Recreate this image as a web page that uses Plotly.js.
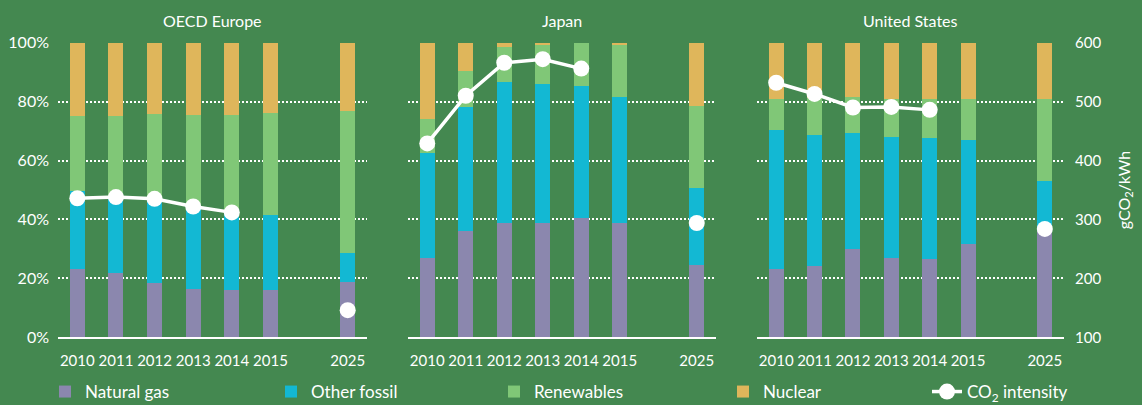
<!DOCTYPE html>
<html>
<head>
<meta charset="utf-8">
<script src="https://cdn.plot.ly/plotly-3.0.1.min.js"></script>
<style>
html,body{margin:0;padding:0;background:#448850;}
#chart{width:1142px;height:405px;}
</style>
</head>
<body>
<div id="chart"></div>
<script>
// ---- data ----
const years = ['2010','2011','2012','2013','2014','2015','2025'];
const categoryOrder = ['2010','2011','2012','2013','2014','2015','gap','2025'];
const regions = ['OECD Europe','Japan','United States'];
const seriesNames = ['Natural gas','Other fossil','Renewables','Nuclear'];
const lineName = 'CO<sub>2</sub> intensity';

// shares of electricity generation (%)
const europeGas     = [23.2, 21.7, 18.3, 16.5, 15.9, 15.9, 18.7];
const europeFossil  = [26.5, 26.3, 29.2, 27.5, 26.1, 25.6, 9.8];
const europeRenew   = [25.3, 27.0, 28.4, 31.6, 33.4, 34.6, 48.3];
const europeNuclear = [25.0, 25.0, 24.1, 24.4, 24.6, 23.9, 23.2];
const europeCO2     = [336, 338, 335, 322, 312, null, 146];

const japanGas      = [27.0, 36.1, 38.8, 38.8, 40.6, 38.8, 24.4];
const japanFossil   = [35.6, 42.0, 47.8, 47.1, 44.7, 42.8, 26.4];
const japanRenew    = [11.5, 12.2, 11.8, 13.3, 14.7, 17.5, 27.8];
const japanNuclear  = [25.9, 9.7, 1.6, 0.8, 0.0, 0.9, 21.4];
const japanCO2      = [429, 510, 566, 572, 556, null, 294];

const usGas         = [23.3, 24.3, 29.9, 27.0, 26.6, 31.8, 36.0];
const usFossil      = [47.2, 44.4, 39.3, 41.0, 41.0, 35.3, 17.0];
const usRenew       = [10.4, 12.4, 12.3, 13.0, 13.3, 13.7, 27.8];
const usNuclear     = [19.1, 18.9, 18.5, 19.0, 19.1, 19.2, 19.2];
const usCO2         = [532, 513, 490, 491, 486, null, 284];

const pctTicks  = [0, 20, 40, 60, 80, 100];
const pctLabels = ['0%', '20%', '40%', '60%', '80%', '100%'];
const co2Ticks  = [100, 200, 300, 400, 500, 600];

// ---- styling ----
const colors = ['#8b87ae', '#13b8d3', '#80c777', '#dfb65b'];
const bg = '#448850';
const fontFam = 'Lato, "Open Sans", sans-serif';

const panels = [
  {name: regions[0], vals: [europeGas, europeFossil, europeRenew, europeNuclear], co2: europeCO2},
  {name: regions[1], vals: [japanGas, japanFossil, japanRenew, japanNuclear], co2: japanCO2},
  {name: regions[2], vals: [usGas, usFossil, usRenew, usNuclear], co2: usCO2}
];

const W = 1142, H = 405;
const xDomPx = [[58, 367], [408, 716], [757, 1064]];
const yDom = [(H - 337.3) / H, (H - 42.7) / H];
const legendXPx = [45, 271, 494, 723, 927];
const legendIds = ['legend', 'legend2', 'legend3', 'legend4', 'legend5'];

const traces = [];
const layout = {
  width: W, height: H,
  paper_bgcolor: bg, plot_bgcolor: bg,
  margin: {l: 0, r: 0, t: 0, b: 0, autoexpand: false},
  barmode: 'stack',
  bargap: 0.61,
  font: {family: fontFam, color: '#ffffff', size: 15, weight: 400},
  showlegend: true,
  annotations: []
};
legendIds.forEach((id, k) => {
  layout[id] = {
    orientation: 'h', x: legendXPx[k] / W, xanchor: 'left', y: 13 / H, yanchor: 'middle',
    font: {family: fontFam, color: '#ffffff', size: 17, weight: 400},
    bgcolor: 'rgba(0,0,0,0)', borderwidth: 0, itemclick: false
  };
});

panels.forEach((p, i) => {
  const xa = i === 0 ? 'x' : 'x' + (i + 1);
  const yPct = i === 0 ? 'y' : 'y' + (2 * i + 1);
  const yCo2 = 'y' + (2 * i + 2);
  const xKey = i === 0 ? 'xaxis' : 'xaxis' + (i + 1);
  const yPctKey = i === 0 ? 'yaxis' : 'yaxis' + (2 * i + 1);
  const yCo2Key = 'yaxis' + (2 * i + 2);

  p.vals.forEach((v, k) => {
    traces.push({
      type: 'bar', x: years, y: v, name: seriesNames[k],
      marker: {color: colors[k], line: {width: 0}},
      xaxis: xa, yaxis: yPct, showlegend: i === 0, legend: legendIds[k],
      hoverinfo: 'skip'
    });
  });
  traces.push({
    type: 'scatter', mode: 'lines+markers', x: years, y: p.co2, name: lineName,
    connectgaps: false,
    line: {color: '#ffffff', width: 3.5},
    marker: {color: '#ffffff', size: 16},
    xaxis: xa, yaxis: yCo2, showlegend: i === 0, legend: legendIds[4],
    hoverinfo: 'skip'
  });

  layout[xKey] = {
    domain: [xDomPx[i][0] / W, xDomPx[i][1] / W], anchor: yPct,
    type: 'category', categoryorder: 'array', categoryarray: categoryOrder,
    tickmode: 'array', tickvals: years, ticktext: years,
    range: [-0.5, categoryOrder.length - 0.5],
    showline: true, linecolor: '#ffffff', linewidth: 1.5,
    ticks: '', showgrid: false, zeroline: false, ticklabelstandoff: 9,
    tickfont: {family: fontFam, color: '#ffffff', size: 15},
    fixedrange: true
  };
  layout[yPctKey] = {
    domain: yDom, anchor: xa, range: [0, 100],
    tickmode: 'array', tickvals: pctTicks, ticktext: pctLabels,
    showticklabels: i === 0, ticklabelstandoff: 8,
    showgrid: true, gridcolor: '#ffffff', gridwidth: 2, griddash: '2px,2px',
    zeroline: false, showline: false, ticks: '',
    tickfont: {family: fontFam, color: '#ffffff', size: 16},
    fixedrange: true
  };
  layout[yCo2Key] = {
    domain: yDom, anchor: xa, overlaying: yPct, side: 'right',
    range: [100, 600], tickmode: 'array', tickvals: co2Ticks,
    showticklabels: i === 2, showgrid: false, zeroline: false,
    showline: false, ticks: '', ticklabelstandoff: 10,
    tickfont: {family: fontFam, color: '#ffffff', size: 15},
    fixedrange: true
  };
  if (i === 2) {
    layout[yCo2Key].title = {text: 'gCO<sub>2</sub>/kWh', font: {family: fontFam, color: '#ffffff', size: 16}, standoff: 18};
  }
  layout.annotations.push({
    text: p.name, xref: 'paper', yref: 'paper',
    x: (xDomPx[i][0] + xDomPx[i][1]) / 2 / W, y: (H - 20) / H,
    xanchor: 'center', yanchor: 'middle', showarrow: false,
    font: {family: fontFam, color: '#ffffff', size: 16, weight: 400}
  });
});

Plotly.newPlot('chart', traces, layout, {displayModeBar: false, staticPlot: true});
</script>
</body>
</html>
